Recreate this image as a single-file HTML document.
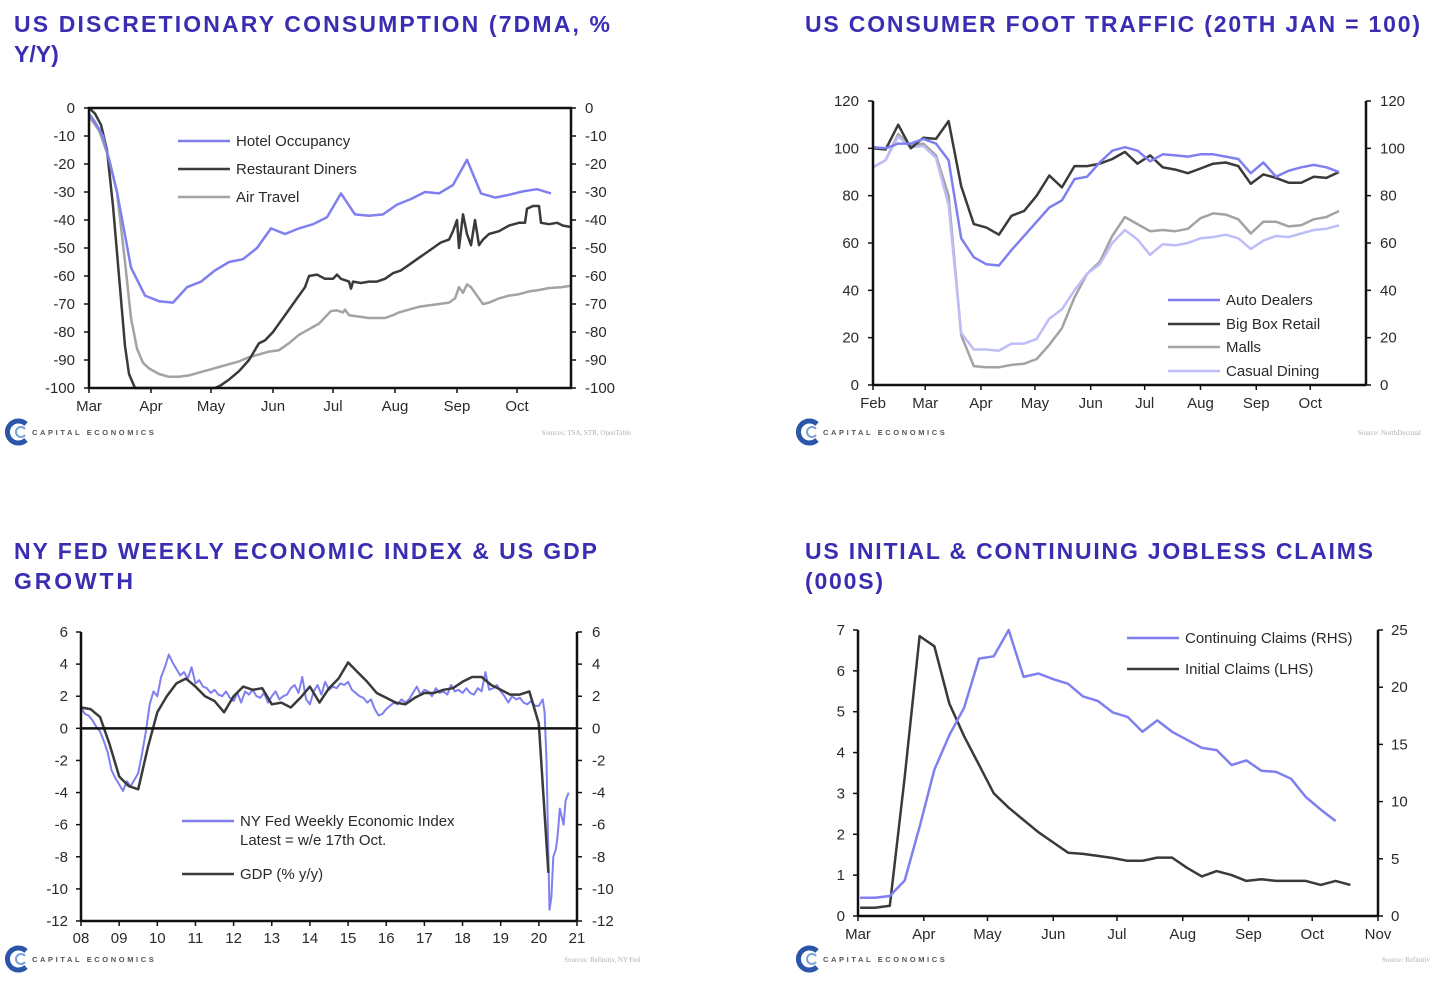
<!DOCTYPE html>
<html><head><meta charset="utf-8"><title>US consumption charts</title>
<style>
html,body{margin:0;padding:0;background:#fff;}
svg{display:block;font-family:"Liberation Sans",sans-serif;}
.title{font-family:"Liberation Sans",sans-serif;font-weight:bold;font-size:23px;fill:#3a2db2;}
.tick{font-size:15px;fill:#2a2a2a;}
.leg{font-size:15px;fill:#2a2a2a;}
.src{font-size:7px;fill:#b0b0b0;font-family:"Liberation Serif",serif;}
.logo{font-size:7.5px;font-weight:bold;fill:#555;letter-spacing:2.6px;}
</style></head>
<body>
<svg id="root" width="1444" height="982" viewBox="0 0 1444 982" xmlns="http://www.w3.org/2000/svg">
<text class="title" x="14" y="32" textLength="596" lengthAdjust="spacing">US DISCRETIONARY CONSUMPTION (7DMA, %</text>
<text class="title" x="14" y="62">Y/Y)</text>
<text class="title" x="805" y="32" textLength="615" lengthAdjust="spacing">US CONSUMER FOOT TRAFFIC (20TH JAN = 100)</text>
<text class="title" x="14" y="559" textLength="583" lengthAdjust="spacing">NY FED WEEKLY ECONOMIC INDEX &amp; US GDP</text>
<text class="title" x="14" y="589" textLength="119" lengthAdjust="spacing">GROWTH</text>
<text class="title" x="805" y="559" textLength="568" lengthAdjust="spacing">US INITIAL &amp; CONTINUING JOBLESS CLAIMS</text>
<text class="title" x="805" y="589" textLength="78" lengthAdjust="spacing">(000S)</text>
</svg>
<script>
// ---------- Chart 1 data (days since 1 Mar) ----------
const c1MonthLabels = ["Mar","Apr","May","Jun","Jul","Aug","Sep","Oct"];
const c1MonthDays = [0,31,61,92,122,153,184,214];
const c1YTicks = [0,-10,-20,-30,-40,-50,-60,-70,-80,-90,-100];
const hotelDays = [0,3,7,14,21,28,35,42,49,56,63,70,77,84,91,98,105,112,119,126,133,140,147,154,161,168,175,182,189,196,203,210,217,224,231];
const hotelVals = [-2,-5,-10,-30,-57,-67,-69,-69.5,-64,-62,-58,-55,-54,-50,-43,-45,-43,-41.5,-39,-30.5,-38,-38.5,-38,-34.5,-32.5,-30,-30.5,-27.5,-18.5,-30.5,-32,-31,-29.8,-29,-30.5];
const restDays = [0,3,6,9,12,15,18,20,23,63,66,70,75,80,85,88,92,96,100,104,108,110,114,118,122,124,126,130,131,132,136,140,144,148,152,156,160,164,168,172,176,180,182,184,185,187,189,191,193,195,197,200,205,210,215,218,219,222,225,226,230,234,237,241];
const restVals = [0,-2,-6,-15,-35,-60,-85,-95,-100,-100,-99,-97,-94,-90,-84,-83,-80,-76,-72,-68,-64,-60,-59.5,-61,-61,-59.5,-61,-62,-64.5,-62,-62.5,-62,-62,-61,-59,-58,-56,-54,-52,-50,-48,-47,-44,-40,-50,-38,-45,-49,-40,-49,-47,-45,-44,-42,-41,-41,-36,-35,-35,-41,-41.5,-41,-42,-42.5];
const airDays = [0,5,10,14,18,21,24,27,30,35,40,45,50,55,60,65,70,75,80,85,90,95,100,105,110,115,119,121,124,127,128,130,135,140,148,152,155,160,165,170,175,180,183,185,187,189,191,194,197,200,205,210,215,220,225,230,236,241];
const airVals = [-3,-8,-18,-30,-55,-75,-86,-91,-93,-95,-96,-96,-95.5,-94.5,-93.5,-92.5,-91.5,-90.5,-89,-88,-87,-86.5,-84,-81,-79,-77,-74,-72.5,-72.3,-73,-72,-74,-74.5,-75,-75,-74,-73,-72,-71,-70.5,-70,-69.5,-68,-64,-66,-63,-64,-67,-70,-69.5,-68,-67,-66.5,-65.5,-65,-64.3,-64,-63.5];

// ---------- Chart 2 data (weekly from 1 Feb) ----------
const c2MonthLabels = ["Feb","Mar","Apr","May","Jun","Jul","Aug","Sep","Oct"];
const c2MonthDays = [0,29,60,90,121,151,182,213,243];
const c2YTicks = [0,20,40,60,80,100,120];
const autoVals = [100.5,100,102,102,104,102,95,62,54,51,50.5,57,63,69,75,78,87,88,94,99,100.5,99,94.5,97.5,97,96.5,97.5,97.5,96.5,95.5,89.5,94,88,90.5,92,93,92,90];
const bigBoxVals = [100,99.5,110,100,104.5,104,111.5,84,68,66.5,63.5,71.5,73.5,80,88.5,83.5,92.5,92.5,93.5,95.5,98.5,93.5,97,92,91,89.5,91.5,93.5,94,92.5,85,89,87.5,85.5,85.5,88,87.5,90];
const mallVals = [92,95,106,101,102,97,80,21,8,7.5,7.5,8.5,9,11,17,24,37,47,52,63,71,68,65,65.5,65,66,70.5,72.5,72,70,64,69,69,67,67.5,70,71,73.5];
const diningVals = [92,95,105,100.5,101,96,76,22,15,15,14.5,17.5,17.5,19.5,28,32,40,47,51,60,65.5,61.5,55,59.5,59,60,62,62.5,63.5,62,57.5,61,63,62.5,64,65.5,66,67.5];

// ---------- Chart 3 data (years) ----------
const c3XLabels = ["08","09","10","11","12","13","14","15","16","17","18","19","20","21"];
const c3YTicks = [6,4,2,0,-2,-4,-6,-8,-10,-12];
const gdpVals = [1.3,1.2,0.7,-1.0,-3.0,-3.6,-3.8,-1.2,1.0,2.0,2.8,3.1,2.6,2.0,1.7,1.0,2.0,2.6,2.4,2.5,1.5,1.6,1.3,1.9,2.6,1.6,2.5,3.1,4.1,3.5,2.9,2.2,1.9,1.6,1.5,1.9,2.2,2.2,2.4,2.5,2.9,3.2,3.2,2.7,2.4,2.1,2.1,2.3,0.3,-9.0];
const weiVals = [1.3,0.9,0.8,0.5,0.1,-0.2,-0.8,-1.5,-2.6,-3.1,-3.5,-3.9,-3.3,-3.6,-3.2,-2.8,-1.6,-0.2,1.5,2.3,2.0,3.2,3.8,4.6,4.1,3.7,3.3,3.5,3.1,3.8,2.8,3.0,2.6,2.5,2.2,2.4,2.1,2.0,2.3,1.9,1.7,2.2,1.6,2.3,2.1,2.4,2.0,1.9,2.2,1.6,2.0,2.3,1.8,2.0,2.1,2.5,2.7,2.2,3.2,1.8,1.5,2.3,2.7,2.1,2.9,2.4,2.6,2.5,2.8,2.7,2.9,2.4,2.2,2.0,1.9,1.6,1.8,1.2,0.8,0.9,1.2,1.4,1.6,1.5,1.8,1.6,1.8,2.2,2.6,2.1,2.4,2.3,2.0,2.5,2.2,2.3,2.1,2.7,2.3,2.4,2.2,2.5,2.2,2.1,2.5,2.3,3.5,2.4,2.5,2.7,2.3,2.0,1.6,2.0,1.8,1.9,1.6,1.5,1.7,1.4,1.4,1.8];
const weiCovidYears = [2020.15,2020.2,2020.25,2020.28,2020.33,2020.38,2020.45,2020.5,2020.55,2020.6,2020.65,2020.7,2020.78];
const weiCovidVals = [1.0,-2,-8,-11.3,-10.5,-8,-7.5,-6.5,-5,-5.5,-6,-4.5,-4];

// ---------- Chart 4 data (weekly, days since 1 Mar) ----------
const c4MonthLabels = ["Mar","Apr","May","Jun","Jul","Aug","Sep","Oct","Nov"];
const c4MonthDays = [0,31,61,92,122,153,184,214,245];
const c4LeftTicks = [0,1,2,3,4,5,6,7];
const c4RightTicks = [0,5,10,15,20,25];
const initialVals = [0.2,0.2,0.25,3.4,6.85,6.6,5.2,4.4,3.7,3.0,2.65,2.35,2.05,1.8,1.55,1.52,1.47,1.42,1.35,1.35,1.43,1.43,1.18,0.97,1.1,1.0,0.86,0.9,0.86,0.86,0.86,0.76,0.86,0.76];
const continuingVals = [1.6,1.6,1.75,3.1,7.8,12.8,15.8,18.2,22.5,22.7,25,20.9,21.2,20.7,20.3,19.2,18.8,17.8,17.4,16.1,17.1,16.1,15.4,14.7,14.5,13.2,13.6,12.7,12.6,12.0,10.4,9.3,8.3];

const NS = "http://www.w3.org/2000/svg";
const root = document.getElementById('root');
function mk(tag, attrs, parent){ const e=document.createElementNS(NS,tag); for(const k in attrs) e.setAttribute(k,attrs[k]); (parent||root).appendChild(e); return e; }
function lin(d0,d1,r0,r1){ return v => r0 + (v-d0)/(d1-d0)*(r1-r0); }
function line(xs, ys, color, w, name){
  const pts = xs.map((x,i)=>x.toFixed(1)+","+ys[i].toFixed(1)).join(" ");
  const p = mk('polyline',{points:pts,fill:'none',stroke:color,'stroke-width':w,'stroke-linejoin':'round'});
  
  
  return p;
}
function txt(x,y,s,cls,anchor,name){
  const t = mk('text',{x:x,y:y,class:cls,'text-anchor':anchor||'start'}); t.textContent=s;
  
  
  return t;
}
function seg(x1,y1,x2,y2,color,w,name){
  const l = mk('line',{x1:x1,y1:y1,x2:x2,y2:y2,stroke:color||'#111','stroke-width':w||2});
  
  
  return l;
}
function logo(x,y,src,srcX,prefix){
  const g = mk('g',{});
  
  
  mk('path',{d:`M ${x+8} ${y-8} A 11 11 0 1 0 ${x+8} ${y+8}`,fill:'none',stroke:'#2a55a8','stroke-width':5},g);
  mk('path',{d:`M ${x+7} ${y-3} A 5 5 0 1 0 ${x+7} ${y+3}`,fill:'none',stroke:'#7aa0d8','stroke-width':2},g);
  const t = mk('text',{x:x+14,y:y+3,class:'logo'},g); t.textContent='CAPITAL ECONOMICS';
  txt(srcX,y+3,src,'src','end',prefix+'-source');
}
function legend(x,y,color,label,name){
  seg(x,y,x+52,y,color,2.5,name+'-swatch');
  txt(x+58,y+5,label,'leg','start',name+'-label');
}

// ================= Chart 1 =================
(function(){
  const L=89,R=571,T=108,B=388;
  const xs=lin(0,241,L,R), ys=lin(0,-100,T,B);
  c1YTicks.forEach(v=>{ const y=ys(v);
    seg(L-5,y,L,y,'#111',1.5,'c1-ytick-left'); seg(R,y,R+5,y,'#111',1.5,'c1-ytick-right');
    txt(L-14,y+5,String(v),'tick','end','c1-ylabel-left'); txt(R+14,y+5,String(v),'tick','start','c1-ylabel-right'); });
  c1MonthDays.forEach((d,i)=>{ const x=xs(d); seg(x,B,x,B+5,'#111',1.5,'c1-xtick'); txt(x,B+23,c1MonthLabels[i],'tick','middle','c1-xlabel'); });
  line(airDays.map(xs),airVals.map(ys),'#a3a3a3',2.5,'c1-air-travel-line');
  line(restDays.map(xs),restVals.map(ys),'#3a3a3a',2.5,'c1-restaurant-line');
  line(hotelDays.map(xs),hotelVals.map(ys),'#7f7ff0',2.5,'c1-hotel-line');
  const box = mk('rect',{x:L,y:T,width:R-L,height:B-T,fill:'none',stroke:'#111','stroke-width':2.5});
   
  legend(178,141,'#7f7ff0','Hotel Occupancy','c1-legend-hotel');
  legend(178,169,'#3a3a3a','Restaurant Diners','c1-legend-restaurant');
  legend(178,197,'#a3a3a3','Air Travel','c1-legend-air');
  logo(18,432,'Sources: TSA, STR, OpenTable',631,'c1');
})();

// ================= Chart 2 =================
(function(){
  const L=873,R=1366,T=101,B=385;
  const xs=lin(0,274,L,R), ys=lin(0,120,B,T);
  c2YTicks.forEach(v=>{ const y=ys(v);
    seg(L-5,y,L,y,'#111',1.5,'c2-ytick-left'); seg(R,y,R+5,y,'#111',1.5,'c2-ytick-right');
    txt(L-14,y+5,String(v),'tick','end','c2-ylabel-left'); txt(R+14,y+5,String(v),'tick','start','c2-ylabel-right'); });
  c2MonthDays.forEach((d,i)=>{ const x=xs(d); seg(x,B,x,B+5,'#111',1.5,'c2-xtick'); txt(x,B+23,c2MonthLabels[i],'tick','middle','c2-xlabel'); });
  const wk = v => v.map((_,i)=>xs(i*7));
  line(wk(mallVals),mallVals.map(ys),'#a3a3a3',2.5,'c2-malls-line');
  line(wk(diningVals),diningVals.map(ys),'#bdbdf7',2.5,'c2-casual-dining-line');
  line(wk(bigBoxVals),bigBoxVals.map(ys),'#3a3a3a',2.5,'c2-big-box-line');
  line(wk(autoVals),autoVals.map(ys),'#7f7ff0',2.5,'c2-auto-dealers-line');
  seg(L,T,L,B,'#111',2.5,'c2-left-axis'); seg(R,T,R,B,'#111',2.5,'c2-right-axis'); seg(L,B,R,B,'#111',2.5,'c2-x-axis');
  legend(1168,300,'#7f7ff0','Auto Dealers','c2-legend-auto');
  legend(1168,324,'#3a3a3a','Big Box Retail','c2-legend-bigbox');
  legend(1168,347,'#a3a3a3','Malls','c2-legend-malls');
  legend(1168,371,'#bdbdf7','Casual Dining','c2-legend-dining');
  logo(809,432,'Source: NorthDecimal',1421,'c2');
})();

// ================= Chart 3 =================
(function(){
  const L=81,R=577,T=632,B=921;
  const xs=lin(2008,2021,L,R), ys=lin(6,-12,T,B);
  c3YTicks.forEach(v=>{ const y=ys(v);
    seg(L-5,y,L,y,'#111',1.5,'c3-ytick-left'); seg(R,y,R+5,y,'#111',1.5,'c3-ytick-right');
    txt(L-13,y+5,String(v),'tick','end','c3-ylabel-left'); txt(R+15,y+5,String(v),'tick','start','c3-ylabel-right'); });
  c3XLabels.forEach((s,i)=>{ const x=xs(2008+i); seg(x,B,x,B+5,'#111',1.5,'c3-xtick'); txt(x,B+22,s,'tick','middle','c3-xlabel'); });
  const wx = weiVals.map((_,i)=>xs(2008+i*0.1)).concat(weiCovidYears.map(xs));
  const wy = weiVals.concat(weiCovidVals).map(ys);
  line(wx,wy,'#7f7ff0',2,'c3-wei-line');
  line(gdpVals.map((_,i)=>xs(2008+i*0.25)),gdpVals.map(ys),'#3a3a3a',2.5,'c3-gdp-line');
  seg(L,ys(0),R,ys(0),'#111',2.5,'c3-zero-line');
  seg(L,T,L,B,'#111',2.5,'c3-left-axis'); seg(R,T,R,B,'#111',2.5,'c3-right-axis'); seg(L,B,R,B,'#111',2.5,'c3-x-axis');
  legend(182,821,'#7f7ff0','NY Fed Weekly Economic Index','c3-legend-wei');
  txt(240,845,'Latest = w/e 17th Oct.','leg','start','c3-legend-note');
  legend(182,874,'#3a3a3a','GDP (% y/y)','c3-legend-gdp');
  logo(18,959,'Sources: Refinitiv, NY Fed',640,'c3');
})();

// ================= Chart 4 =================
(function(){
  const L=858,R=1378,T=630,B=916;
  const xs=lin(0,245,L,R), yl=lin(0,7,B,T), yr=lin(0,25,B,T);
  c4LeftTicks.forEach(v=>{ const y=yl(v); seg(L-5,y,L,y,'#111',1.5,'c4-ytick-left'); txt(L-13,y+5,String(v),'tick','end','c4-ylabel-left'); });
  c4RightTicks.forEach(v=>{ const y=yr(v); seg(R,y,R+5,y,'#111',1.5,'c4-ytick-right'); txt(R+13,y+5,String(v),'tick','start','c4-ylabel-right'); });
  c4MonthDays.forEach((d,i)=>{ const x=xs(d); seg(x,B,x,B+5,'#111',1.5,'c4-xtick'); txt(x,B+23,c4MonthLabels[i],'tick','middle','c4-xlabel'); });
  line(initialVals.map((_,i)=>xs(1+i*7)),initialVals.map(yl),'#3a3a3a',2.5,'c4-initial-claims-line');
  line(continuingVals.map((_,i)=>xs(1+i*7)),continuingVals.map(yr),'#7f7ff0',2.5,'c4-continuing-claims-line');
  seg(L,T,L,B,'#111',2.5,'c4-left-axis'); seg(R,T,R,B,'#111',2.5,'c4-right-axis'); seg(L,B,R,B,'#111',2.5,'c4-x-axis');
  legend(1127,638,'#7f7ff0','Continuing Claims (RHS)','c4-legend-continuing');
  legend(1127,669,'#3a3a3a','Initial Claims (LHS)','c4-legend-initial');
  logo(809,959,'Source: Refinitiv',1430,'c4');
})();
</script>
</body></html>
